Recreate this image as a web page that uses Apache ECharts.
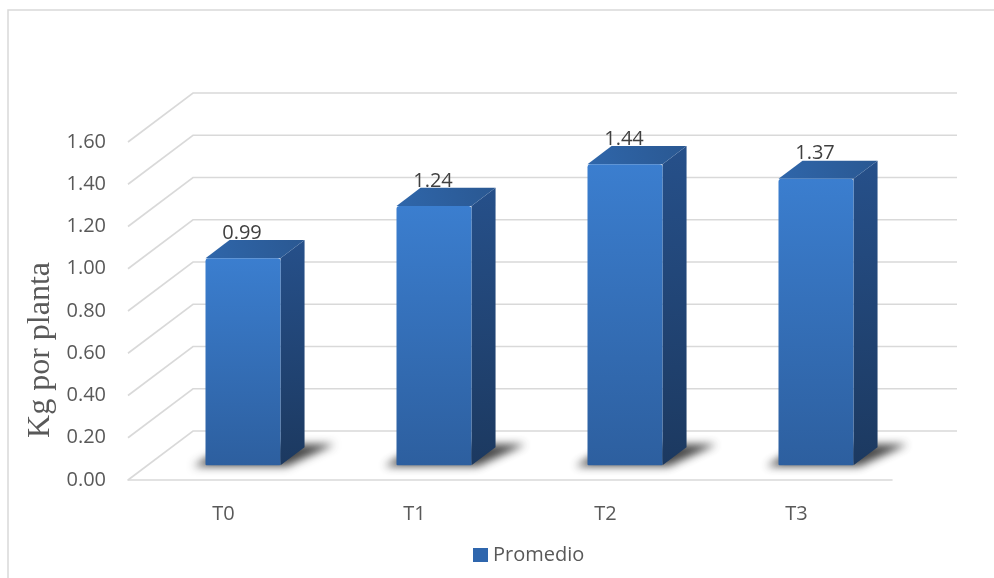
<!DOCTYPE html>
<html>
<head>
<meta charset="utf-8">
<script src="https://cdn.jsdelivr.net/npm/echarts@6/dist/echarts.min.js"></script>
<style>
  html, body { margin: 0; padding: 0; background: #ffffff; }
  #chart { width: 994px; height: 578px; }
</style>
</head>
<body>
<div id="chart"></div>
<script>
// Treatments and mean yield per plant
const categories = ['T0', 'T1', 'T2', 'T3'];
const promedio = [0.99, 1.24, 1.44, 1.37];
const yTicks = [0, 0.2, 0.4, 0.6, 0.8, 1.0, 1.2, 1.4, 1.6];

// Depth of the 3D floor (pixels, to the back-right)
const DEPTH_X = 65, DEPTH_Y = -49;
const BAR_FRONT = 0.30, BAR_BACK = 0.67;
const BAR_WIDTH = 75;
// the shadow shape is drawn off-canvas so only its blurred shadow shows
const SHADOW_SHIFT = 3000;

const chart = echarts.init(document.getElementById('chart'), null, { renderer: 'canvas' });

function wallItem(params, api) {
  const cs = params.coordSys;
  const v = api.value(0);
  const y = api.coord([0, v])[1];
  const x0 = cs.x;
  const xb = x0 + DEPTH_X;
  const yb = y + DEPTH_Y;
  return {
    type: 'polyline',
    shape: { points: [[x0, y], [xb, yb], [cs.x + cs.width + DEPTH_X, yb]] },
    style: { stroke: '#d9d9d9', lineWidth: 1.6, fill: null },
    silent: true
  };
}

function barItem(params, api) {
  const i = api.value(0);
  const v = api.value(1);
  const top = api.coord([i, v]);
  const zero = api.coord([i, 0]);
  const fx = top[0] + BAR_FRONT * DEPTH_X;
  const yb = zero[1] + BAR_FRONT * DEPTH_Y;
  const h = (zero[1] - top[1]) * 0.99;
  const yt = yb - h;
  const x0 = fx - BAR_WIDTH / 2, x1 = fx + BAR_WIDTH / 2;
  const dx = (BAR_BACK - BAR_FRONT) * DEPTH_X;
  const dy = (BAR_BACK - BAR_FRONT) * DEPTH_Y;
  const S = SHADOW_SHIFT;

  return {
    type: 'group',
    children: [
      // soft floor shadow
      {
        type: 'polygon',
        shape: { points: [
          [x0 - 12 - S, yb + 1], [x1 + 6 - S, yb + 1],
          [x1 + dx + 30 - S, yb + dy - 3], [x0 + dx - S, yb + dy - 3]
        ] },
        style: {
          fill: '#000',
          shadowBlur: 9,
          shadowOffsetX: S,
          shadowColor: 'rgba(40,40,40,0.85)'
        },
        silent: true
      },
      // side face
      {
        type: 'polygon',
        shape: { points: [[x1, yt], [x1 + dx, yt + dy], [x1 + dx, yb + dy], [x1, yb]] },
        style: {
          fill: new echarts.graphic.LinearGradient(0, 0, 0, 1, [
            { offset: 0, color: '#26508a' },
            { offset: 1, color: '#1c3960' }
          ])
        }
      },
      // top face
      {
        type: 'polygon',
        shape: { points: [[x0, yt], [x1, yt], [x1 + dx, yt + dy], [x0 + dx, yt + dy]] },
        style: {
          fill: new echarts.graphic.LinearGradient(0, 1, 1, 0, [
            { offset: 0, color: '#2f66aa' },
            { offset: 1, color: '#2a5892' }
          ])
        }
      },
      // front face
      {
        type: 'rect',
        shape: { x: x0, y: yt, width: BAR_WIDTH, height: h, r: [3, 3, 1, 1] },
        style: {
          fill: new echarts.graphic.LinearGradient(0, 0, 0, 1, [
            { offset: 0, color: '#3b7ecf' },
            { offset: 1, color: '#2d5f9f' }
          ])
        }
      },
      // value label
      {
        type: 'text',
        style: {
          text: v.toFixed(2),
          x: fx - 1,
          y: yt - 25,
          align: 'center',
          verticalAlign: 'middle',
          fontFamily: 'Open Sans',
          fontSize: 20,
          fill: '#404040'
        }
      }
    ]
  };
}

const option = {
  backgroundColor: '#ffffff',
  animation: false,
  graphic: [
    {
      type: 'rect',
      shape: { x: 8, y: 10, width: 1100, height: 700 },
      style: { fill: null, stroke: '#d9d9d9', lineWidth: 1.5 },
      silent: true,
      z: -10
    },
    {
      type: 'text',
      x: 41,
      y: 350,
      rotation: Math.PI / 2,
      style: {
        text: 'Kg por planta',
        align: 'center',
        verticalAlign: 'middle',
        fontFamily: 'Liberation Serif',
        fontSize: 32,
        fill: '#595959'
      },
      silent: true
    }
  ],
  grid: { left: 128, right: 102, top: 142, height: 338 },
  legend: {
    data: ['Promedio'],
    left: 468,
    top: 540,
    itemWidth: 15,
    itemHeight: 14,
    itemGap: 6,
    icon: 'rect',
    textStyle: { fontFamily: 'Open Sans', fontSize: 20, color: '#595959' }
  },
  xAxis: {
    type: 'category',
    data: categories,
    axisLine: { show: true, lineStyle: { color: '#d9d9d9', width: 1.6 } },
    axisTick: { show: false },
    splitLine: { show: false },
    axisLabel: { margin: 24, fontFamily: 'Open Sans', fontSize: 20, color: '#595959' }
  },
  yAxis: {
    type: 'value',
    min: 0,
    max: 1.6,
    interval: 0.2,
    axisLine: { show: false },
    axisTick: { show: false },
    splitLine: { show: false },
    axisLabel: {
      margin: 22,
      fontFamily: 'Open Sans',
      fontSize: 20,
      color: '#595959',
      formatter: v => v.toFixed(2)
    }
  },
  series: [
    {
      name: 'walls',
      type: 'custom',
      renderItem: wallItem,
      data: yTicks.map(v => [v]),
      encode: { y: 0 },
      z: 1,
      silent: true
    },
    {
      name: 'Promedio',
      type: 'custom',
      renderItem: barItem,
      data: promedio.map((v, i) => [i, v]),
      encode: { x: 0, y: 1 },
      itemStyle: { color: '#2f66ad' },
      z: 3
    }
  ]
};

chart.setOption(option);
</script>
</body>
</html>
